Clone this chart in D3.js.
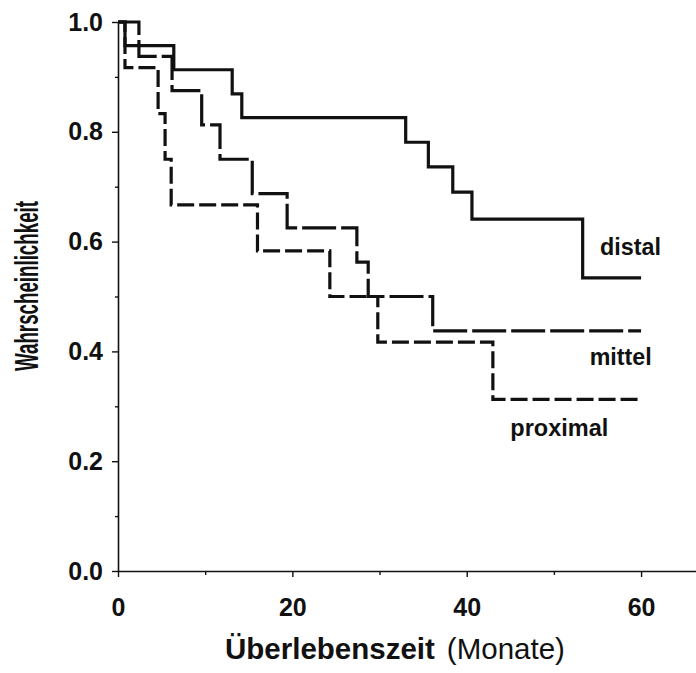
<!DOCTYPE html>
<html>
<head>
<meta charset="utf-8">
<script src="https://cdn.jsdelivr.net/npm/d3@7"></script>
<style>
  html, body { margin: 0; padding: 0; background: #fff; }
  svg { display: block; }
  text { font-family: "Liberation Sans", Arial, Helvetica, sans-serif; fill: #111; }
</style>
</head>
<body>
<svg id="chart" width="696" height="673"></svg>
<script>
// Kaplan-Meier survival by tumour location: step times (months) and survival probability
const distalTimes   = [0, 0.8, 6.4, 13.1, 14.2, 33.0, 35.6, 38.4, 40.6, 53.3, 60];
const distalSurv    = [1.0, 0.957, 0.913, 0.869, 0.826, 0.781, 0.736, 0.69, 0.641, 0.534, 0.534];

const mittelTimes   = [0, 2.4, 6.2, 9.6, 11.7, 15.4, 19.4, 27.4, 28.7, 36.1, 60];
const mittelSurv    = [1.0, 0.9375, 0.875, 0.8125, 0.75, 0.6875, 0.625, 0.5625, 0.5, 0.4375, 0.4375];

const proximalTimes = [0, 0.8, 4.6, 5.4, 6.1, 16.0, 24.3, 29.8, 43.0, 60];
const proximalSurv  = [1.0, 0.917, 0.833, 0.75, 0.667, 0.583, 0.5, 0.417, 0.3125, 0.3125];

const seriesNames = ["distal", "mittel", "proximal"];

const xTicks = [0, 20, 40, 60];
const xMinorTicks = [10, 30, 50];
const yTicks = [0.0, 0.2, 0.4, 0.6, 0.8, 1.0];
const yMinorTicks = [0.1, 0.3, 0.5, 0.7, 0.9];

const xTitleBold = "Überlebenszeit";
const xTitleUnit = "(Monate)";
const yTitle = "Wahrscheinlichkeit";

const svg = d3.select("#chart");

const x = d3.scaleLinear().domain([0, 66.3]).range([118, 696]);
const y = d3.scaleLinear().domain([0, 1]).range([571, 22]);

// axes
const yAxis = svg.append("g").attr("transform", `translate(${x(0)},0)`)
  .call(d3.axisLeft(y).tickValues(yTicks).tickFormat(d3.format(".1f"))
        .tickSize(6).tickSizeOuter(0).tickPadding(9));
svg.append("g").attr("transform", `translate(${x(0)},0)`)
  .call(d3.axisLeft(y).tickValues(yMinorTicks).tickFormat("").tickSize(3).tickSizeOuter(0))
  .select(".domain").remove();

const xAxis = svg.append("g").attr("transform", `translate(0,${y(0)})`)
  .call(d3.axisBottom(x).tickValues(xTicks).tickFormat(d3.format("d"))
        .tickSize(6).tickSizeOuter(0).tickPadding(21));
svg.append("g").attr("transform", `translate(0,${y(0)})`)
  .call(d3.axisBottom(x).tickValues(xMinorTicks).tickFormat("").tickSize(4).tickSizeOuter(0))
  .select(".domain").remove();

svg.selectAll(".domain").attr("stroke", "#111").attr("stroke-width", 1.6);
svg.selectAll(".tick line").attr("stroke", "#111").attr("stroke-width", 1.4);
[yAxis, xAxis].forEach(g => g.selectAll(".tick text")
  .style("font-family", '"Liberation Sans", Arial, sans-serif')
  .style("font-size", "25px").style("font-weight", "bold").attr("fill", "#111"));

// survival curves
const line = d3.line().x(d => x(d[0])).y(d => y(d[1])).curve(d3.curveStepAfter);
const curves = [
  { name: seriesNames[0], t: distalTimes, s: distalSurv, dash: null },
  { name: seriesNames[1], t: mittelTimes, s: mittelSurv, dash: "34,5" },
  { name: seriesNames[2], t: proximalTimes, s: proximalSurv, dash: "17,5" }
];
curves.forEach(c => {
  svg.append("path")
    .datum(c.t.map((t, i) => [t, c.s[i]]))
    .attr("d", line)
    .attr("fill", "none")
    .attr("stroke", "#111")
    .attr("stroke-width", 3.2)
    .attr("stroke-linejoin", "miter")
    .attr("stroke-dasharray", c.dash);
});

// curve labels
const labels = [
  { text: seriesNames[0], t: 55.3, p: 0.575, len: 61 },
  { text: seriesNames[1], t: 54.1, p: 0.375, len: 62 },
  { text: seriesNames[2], t: 45.0, p: 0.245, len: 98 }
];
labels.forEach(l => {
  svg.append("text")
    .attr("x", x(l.t)).attr("y", y(l.p))
    .attr("textLength", l.len).attr("lengthAdjust", "spacingAndGlyphs")
    .style("font-size", "23.5px").style("font-weight", "bold")
    .text(l.text);
});

// axis titles
const xt = svg.append("text").attr("x", 225).attr("y", 659).style("font-size", "29.5px");
xt.append("tspan").style("font-weight", "bold").text(xTitleBold);
xt.append("tspan").attr("dx", 12).text(xTitleUnit);

svg.append("text")
  .attr("transform", "translate(38,286) rotate(-90)")
  .attr("text-anchor", "middle")
  .attr("textLength", 170).attr("lengthAdjust", "spacingAndGlyphs")
  .style("font-size", "34px").style("font-weight", "bold")
  .text(yTitle);
</script>
</body>
</html>
